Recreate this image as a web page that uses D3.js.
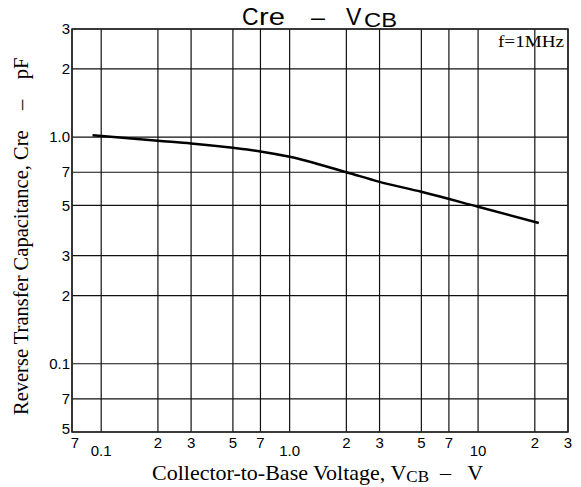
<!DOCTYPE html>
<html><head><meta charset="utf-8">
<script src="https://cdn.jsdelivr.net/npm/d3@7"></script>
<style>body{margin:0;background:#fff}svg{display:block}text{white-space:pre}</style>
</head><body>
<svg id="c" width="581" height="487"></svg>
<script>
// Data
const vcb = [0.09, 0.2, 0.3, 0.5, 0.7, 1.0, 2, 3, 5, 10, 21];
const cre = [1.02, 0.963, 0.938, 0.897, 0.865, 0.819, 0.70, 0.635, 0.574, 0.493, 0.418];
const xTicks = [0.07, 0.1, 0.2, 0.3, 0.5, 0.7, 1, 2, 3, 5, 7, 10, 20, 30];
const xTickLabels = ["7", "0.1", "2", "3", "5", "7", "1.0", "2", "3", "5", "7", "10", "2", "3"];
const yTicks = [0.05, 0.07, 0.1, 0.2, 0.3, 0.5, 0.7, 1, 2, 3];
const yTickLabels = ["5", "7", "0.1", "2", "3", "5", "7", "1.0", "2", "3"];
const xDecades = [0.1, 1, 10];

const svg = d3.select("#c");
const L = 72, R = 568, T = 29, B = 432;
const x = d3.scaleLog().domain([0.07, 30]).range([L, R]);
const y = d3.scaleLog().domain([0.05, 3]).range([B, T]);

// grid
const g = svg.append("g");
g.selectAll("line.v").data(xTicks).join("line")
  .attr("x1", d => x(d)).attr("x2", d => x(d)).attr("y1", T).attr("y2", B)
  .attr("stroke", "#111").attr("stroke-width", 1.2);
g.selectAll("line.h").data(yTicks).join("line")
  .attr("x1", L).attr("x2", R).attr("y1", d => y(d)).attr("y2", d => y(d))
  .attr("stroke", "#111").attr("stroke-width", 1.2);
svg.append("rect").attr("x", L).attr("y", T).attr("width", R - L).attr("height", B - T)
  .attr("fill", "none").attr("stroke", "#222").attr("stroke-width", 1.5);

// tick labels
svg.append("g").selectAll("text").data(yTicks).join("text")
  .attr("x", L - 2).attr("y", d => y(d))
  .attr("dy", (d, i) => i === 0 ? "0.1em" : "0.35em")
  .attr("text-anchor", "end")
  .attr("font-family", "Liberation Sans, Arial, sans-serif").attr("font-size", 15)
  .text((d, i) => yTickLabels[i]);
svg.append("g").selectAll("text").data(xTicks).join("text")
  .attr("x", (d, i) => i === 0 ? x(d) + 3 : x(d))
  .attr("y", d => xDecades.includes(d) ? 451 : 443)
  .attr("dy", "0.35em")
  .attr("text-anchor", "middle")
  .attr("font-family", "Liberation Sans, Arial, sans-serif").attr("font-size", 15)
  .text((d, i) => xTickLabels[i]);

// curve
const line = d3.line().x((d, i) => x(vcb[i])).y(d => y(d)).curve(d3.curveMonotoneX);
svg.append("path").datum(cre).attr("d", line)
  .attr("fill", "none").attr("stroke", "#000").attr("stroke-width", 2.5);

// title
const t = svg.append("text").attr("y", 25)
  .attr("font-family", "Liberation Sans, Arial, sans-serif").attr("font-size", 23);
t.append("tspan").attr("x", 242).text("C");
t.append("tspan").attr("x", 259).attr("textLength", 26).attr("lengthAdjust", "spacingAndGlyphs").text("re");
t.append("tspan").attr("x", 311).attr("textLength", 14).attr("lengthAdjust", "spacingAndGlyphs").text("–");
t.append("tspan").attr("x", 346).text("V");
t.append("tspan").attr("x", 364).attr("font-size", 20).attr("dy", 2)
  .attr("textLength", 33).attr("lengthAdjust", "spacingAndGlyphs").text("CB");

// f=1MHz
svg.append("text").attr("x", 498).attr("y", 47)
  .attr("font-family", "Liberation Serif, Times New Roman, serif").attr("font-size", 16)
  .attr("textLength", 66).attr("lengthAdjust", "spacingAndGlyphs")
  .text("f=1MHz");

// x label
const xl = svg.append("text").attr("x", 152).attr("y", 480)
  .attr("font-family", "Liberation Serif, Times New Roman, serif").attr("font-size", 22);
xl.append("tspan").text("Collector-to-Base Voltage, V");
xl.append("tspan").attr("font-size", 17).attr("dy", 2).text("CB");
xl.append("tspan").attr("dy", -2).text("  –   V");

// y label
svg.append("text").attr("transform", "translate(28,415) rotate(-90)")
  .attr("font-family", "Liberation Serif, Times New Roman, serif").attr("font-size", 20.5)
  .text("Reverse Transfer Capacitance, Cre    –    pF");
</script>
</body></html>
